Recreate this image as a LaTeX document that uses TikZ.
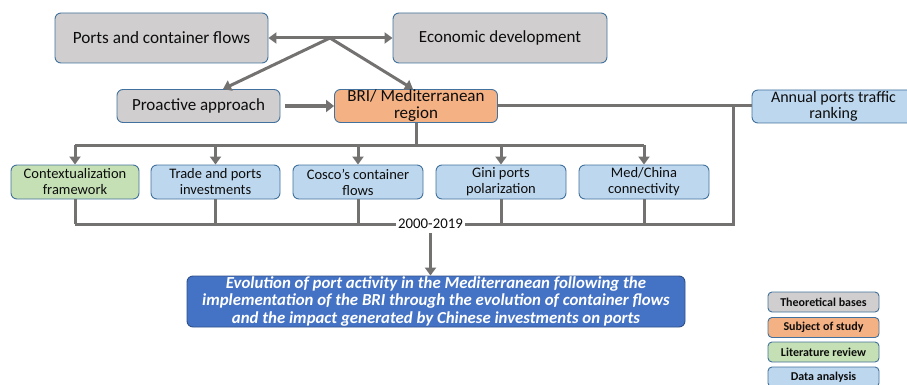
\documentclass[tikz,border=0pt]{standalone}
\usepackage{fontspec}
\setmainfont{Carlito}
\usetikzlibrary{arrows.meta}
\definecolor{gfill}{HTML}{D0CECE}
\definecolor{ofill}{HTML}{F4B183}
\definecolor{grfill}{HTML}{C5E0B4}
\definecolor{bfill}{HTML}{BDD7EE}
\definecolor{rfill}{HTML}{4472C4}
\definecolor{bord}{HTML}{41719C}
\definecolor{conn}{HTML}{747171}
\definecolor{txt}{HTML}{0D0D0D}
\begin{document}
\begin{tikzpicture}[x=1pt,y=-1pt,
  box/.style={draw=bord,line width=0.9pt,rounded corners=6pt,inner sep=0pt,align=center,text=txt},
  topbox/.style={box,font=\fontsize{17}{17}\selectfont},
  rowbox/.style={box,fill=bfill,minimum width=130,minimum height=34,font=\fontsize{14.5}{16}\selectfont},
  legbox/.style={box,minimum width=111,minimum height=20,rounded corners=4pt,font=\fontsize{12}{13}\bfseries\selectfont},
  ln/.style={draw=conn,line width=3pt},
  arr/.style={ln,-{Triangle[width=11pt,length=8pt]}},
  darr/.style={ln,{Triangle[width=11pt,length=8pt]}-{Triangle[width=11pt,length=8pt]}}
]
\useasboundingbox (0,0) rectangle (907,385);
\begin{scope}
\clip (0,0) rectangle (907,385);
% top row
\node[topbox,fill=gfill,minimum width=213,minimum height=50,font=\fontsize{17.2}{17}\selectfont] (ports) at (161.5,38) {Ports and container flows};
\node[topbox,fill=gfill,minimum width=214,minimum height=50] (econ) at (500,38) {Economic development};
\node[topbox,fill=gfill,minimum width=163,minimum height=33] (pro) at (198.5,106) {Proactive approach};
\node[topbox,fill=ofill,minimum width=163,minimum height=33] (bri) at (416,106) {BRI/ Mediterranean\\region};
\node[box,fill=bfill,minimum width=163,minimum height=33,font=\fontsize{16}{16}\selectfont] (ann) at (833.5,106.5) {Annual ports traffic\\ranking};
% second row
\node[rowbox,fill=grfill,minimum width=128] (ctx) at (75,182) {Contextualization\\framework};
\node[rowbox,minimum width=129] (trade) at (215.5,182) {Trade and ports\\investments};
\node[rowbox] (cosco) at (358,182) {Cosco’s container\\flows};
\node[rowbox] (gini) at (501,182) {Gini ports\\polarization};
\node[rowbox] (med) at (644,182) {Med/China\\connectivity};
\node[inner sep=2pt,font=\fontsize{14.8}{15}\selectfont,text=txt] (yr) at (430.5,224) {2000-2019};
% result
\node[box,fill=rfill,draw=rfill!70!black,minimum width=498,minimum height=51,text=white,
  font=\fontsize{16.8}{17.5}\bfseries\itshape\selectfont] (res) at (436,301.5)
  {Evolution of port activity in the Mediterranean following the\\implementation of the BRI through the evolution of container flows\\and the impact generated by Chinese investments on ports};
% legend
\node[legbox,fill=gfill] (l1) at (823.5,302) {Theoretical bases};
\node[legbox,fill=ofill] (l2) at (823.5,327.5) {Subject of study};
\node[legbox,fill=grfill] (l3) at (823.5,352) {Literature review};
\node[legbox,fill=bfill] (l4) at (823.5,377) {Data analysis};
% connectors
\coordinate (br) at (330,38);
\draw[darr] (ports.east) -- (econ.west);
\draw[arr] (br) -- (223,0 |- pro.north);
\draw[arr] (br) -- (413,0 |- bri.north);
\draw[ln,line width=4.5pt,-{Triangle[width=12pt,length=8pt]}] (pro.east) ++(5,0) -- (bri.west);
\draw[ln] (bri.east) -- (bri.east -| ann.west);
\coordinate (jr) at (733,106);
\coordinate (jb) at (733,224);
\coordinate (tb) at (0,145);
\draw[ln] (bri.south) -- (bri.south |- tb);
\draw[ln] (ctx.north |- tb) -- (med.north |- tb);
\foreach \n in {ctx,trade,cosco,gini,med}{
  \draw[arr] (\n.north |- tb) -- (\n.north);
  \draw[ln] (\n.south) -- (\n.south |- jb);
}
\draw[ln] (ctx.south |- jb) -- (yr.west);
\draw[ln] (jr) -- (jb) -- (yr.east);
\draw[arr] (yr.south) ++(0,2) -- (yr.south |- res.north);
\end{scope}
\end{tikzpicture}
\end{document}
